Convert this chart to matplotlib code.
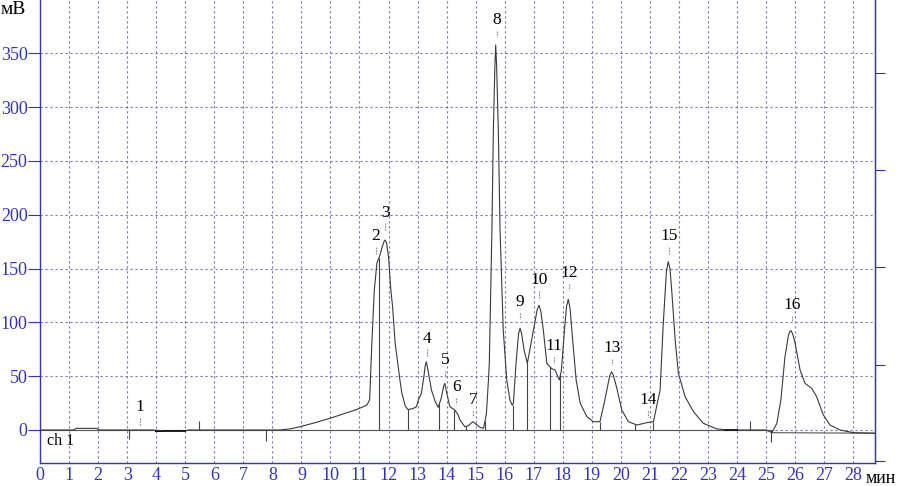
import numpy as np
import matplotlib.pyplot as plt

# Хроматограмма (время, мин / сигнал, мВ)
t_min = [0.0, 1.15, 1.25, 1.95, 2.05, 3.9, 4.3, 5.0, 5.1, 8.26, 8.6, 8.95, 9.5, 9.99,
         10.5, 10.9, 11.25, 11.35, 11.42, 11.51, 11.6, 11.71, 11.78, 11.85, 11.88, 11.93,
         12.0, 12.08, 12.14, 12.23, 12.29, 12.4, 12.46, 12.58, 12.67, 12.85, 12.96, 13.03,
         13.13, 13.22, 13.26, 13.3, 13.35, 13.48, 13.6, 13.71, 13.82, 13.9, 13.94, 14.0,
         14.11, 14.28, 14.4, 14.46, 14.63, 14.75, 14.9, 15.08, 15.15, 15.27, 15.37, 15.44,
         15.47, 15.56, 15.61, 15.66, 15.69, 15.72, 15.78, 15.84, 15.95, 16.07, 16.18, 16.26,
         16.3, 16.39, 16.48, 16.53, 16.58, 16.67, 16.78, 16.99, 17.12, 17.18, 17.24, 17.33,
         17.45, 17.62, 17.73, 17.88, 17.95, 18.05, 18.13, 18.19, 18.25, 18.34, 18.46, 18.6,
         18.83, 19.05, 19.28, 19.45, 19.62, 19.68, 19.74, 19.85, 20.03, 20.26, 20.55, 20.89,
         21.12, 21.35, 21.46, 21.57, 21.63, 21.69, 21.75, 21.87, 21.98, 22.21, 22.5, 22.84,
         23.3, 23.7, 25.0, 25.2, 25.37, 25.51, 25.65, 25.77, 25.82, 25.86, 25.92, 26.0,
         26.17, 26.34, 26.57, 26.74, 26.97, 27.2, 27.55, 28.0, 28.75]
signal_mv = [0, 0, 1.5, 1.5, 0, 0, -1, -1, 0, 0, 1, 3, 7, 10.9,
             15.5, 19, 23, 28, 77, 130, 155, 163, 170, 175.5, 176.6, 174,
             161, 130, 114.6, 80, 68, 45, 34, 22, 19, 20, 21.6, 28,
             34, 50, 59, 63.5, 57, 37, 27, 21, 30, 41, 43.4, 35,
             21.7, 18.6, 14, 9.3, 3, 4, 7.7, 4, 2.5, 1.5, 15, 46,
             62, 186, 279, 336, 357.8, 340, 279, 186, 93, 46.5, 28, 23,
             25, 62, 90, 94.5, 90, 74, 62, 93, 112, 116, 111, 93,
             62, 57, 55.8, 46.5, 55, 90, 115, 121.5, 113, 83.6, 46.5, 24.8,
             12.4, 7.7, 7.7, 28, 51, 54, 51, 40, 18.6, 7.7, 4.6, 6.8,
             7.7, 37, 99, 148, 156.4, 150, 130, 83.6, 52.7, 31, 17, 6.2,
             1, 0, 0, -2.5, 6.2, 28, 68, 88, 91.5, 92.3, 89, 80.6,
             55.8, 43.4, 38.7, 31, 14, 4.6, 0, -2.5, -3]

# границы пиков (вертикальные линии до базовой линии)
drop_t = [11.67, 12.66, 13.75, 14.26, 14.67, 15.32, 16.27, 16.77, 17.56, 17.92, 19.28, 20.5, 21.09]
# отметки на базовой линии
mark_t = [3.07, 5.47, 7.77, 24.45, 25.17]
mark_v = [-8, 8, -10, 8, -11]

# номера пиков
peak_num = [str(i) for i in range(1, 17)]
peak_t = [3.44, 11.57, 11.88, 13.33, 13.95, 14.33, 14.9, 15.74, 16.53, 17.18, 17.7, 18.22, 19.7, 20.94, 21.66, 25.9]
peak_v = [21, 180, 202, 85, 65, 40, 28, 381, 119, 139, 78, 146, 76, 28, 180, 116]

right_ticks = [-28.5, 60.4, 151.5, 241.6, 332]

BLUE = '#3232c8'
GRID = '#7a70c8'
SERIF = 'Liberation Serif'

fig = plt.figure(figsize=(9.03, 4.86), dpi=100)
ax = fig.add_axes([40 / 903, 23.3 / 486, 835 / 903, 462.7 / 486])

ax.set_xlim(0, 28.75)
ax.set_ylim(-30.4, 399.6)

# сетка
for x in range(1, 29):
    ax.axvline(x, color=GRID, lw=0.8, ls=(0, (2, 2.5)), zorder=0)
for y in range(0, 351, 50):
    ax.axhline(y, color=GRID, lw=0.8, ls=(0, (2, 2.5)), zorder=0)

# базовые линии интегрирования
ax.plot([0, 25.2], [0, 0], color='#555555', lw=0.8, zorder=1)
ax.plot([25.2, 28.75], [-2.5, -3], color='#555555', lw=0.8, zorder=1)
ax.plot([4.0, 5.0], [-0.5, -0.5], color='black', lw=1.4, zorder=2)
ax.plot([23.6, 24.0], [0, 0], color='black', lw=1.4, zorder=2)

# сигнал
ax.plot(t_min, signal_mv, color='#3a3a3a', lw=0.8, zorder=3)

# вертикальные линии границ пиков
drop_top = np.interp(drop_t, t_min, signal_mv)
ax.vlines(drop_t, 0, drop_top, color='#444444', lw=0.8, zorder=2)
ax.vlines(mark_t, 0, mark_v, color='#444444', lw=0.8, zorder=2)

# подписи пиков
for name, tx, ty in zip(peak_num, peak_t, peak_v):
    ax.text(tx, ty, name, ha='center', va='center', fontsize=12.5, family=SERIF, color='black')
    ax.plot([tx, tx], [ty - 10, ty - 16], color='#888888', lw=0.8, ls=(0, (1.5, 1)))

ax.text(0.25, -10, 'ch 1', ha='left', va='center', fontsize=11.5, family=SERIF, color='black')

# оси
for side in ['left', 'bottom', 'right']:
    ax.spines[side].set_color(BLUE)
    ax.spines[side].set_linewidth(1.0)
ax.spines['top'].set_visible(False)

ax.set_yticks(range(0, 351, 50))
ax.set_xticks(range(0, 29))
ax.tick_params(axis='y', colors=BLUE, labelcolor=BLUE, length=9, width=0.8, labelsize=13, pad=0)
ax.tick_params(axis='x', colors=BLUE, labelcolor=BLUE, length=0, labelsize=13, pad=3)
for lab in ax.get_xticklabels() + ax.get_yticklabels():
    lab.set_family(SERIF)

ax2 = ax.twinx()
ax2.set_ylim(ax.get_ylim())
ax2.set_yticks(right_ticks)
ax2.set_yticklabels([])
ax2.tick_params(axis='y', colors=BLUE, length=7, width=0.8)
ax2.spines['top'].set_visible(False)
ax2.spines['right'].set_color(BLUE)
ax2.spines['left'].set_visible(False)
ax2.spines['bottom'].set_visible(False)

fig.text(1 / 903, 1 - 9 / 486, 'мВ', ha='left', va='center', fontsize=14, family=SERIF)
fig.text(866 / 903, 1 - 478 / 486, 'мин', ha='left', va='center', fontsize=13, family=SERIF)

fig.savefig('out.png', dpi=100)
